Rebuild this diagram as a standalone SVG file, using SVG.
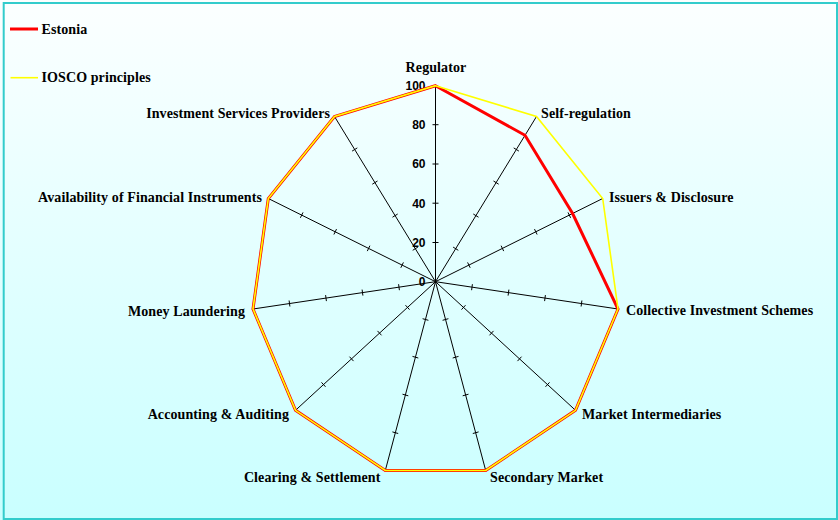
<svg xmlns="http://www.w3.org/2000/svg" width="838" height="520" viewBox="0 0 838 520">
<defs>
<linearGradient id="bg" x1="0" y1="0" x2="0" y2="1">
<stop offset="0" stop-color="#fcffff"/>
<stop offset="1" stop-color="#c9ffff"/>
</linearGradient>
<style>
.ax{stroke:#000;stroke-width:1;fill:none}
.tk{stroke:#000;stroke-width:1;fill:none}
.lbl{font-family:"Liberation Serif","Times New Roman",serif;font-weight:bold;font-size:14px;fill:#000;letter-spacing:0.1px}
.num{font-family:"Liberation Sans",Arial,sans-serif;font-weight:bold;font-size:12px;fill:#000;text-anchor:end}
.est{stroke:#ff0000;stroke-width:3;fill:none;stroke-linejoin:miter}
.ios{stroke:#ffff00;stroke-width:1.6;fill:none;stroke-linejoin:miter}
</style>
</defs>
<rect x="0" y="0" width="838" height="520" fill="url(#bg)"/>
<rect x="3.7" y="3" width="833.3" height="516" fill="none" stroke="#33cccc" stroke-width="2"/>

<g id="legend">
<line x1="10" y1="29" x2="38" y2="29" stroke="#ff0000" stroke-width="3"/>
<text class="lbl" x="41.5" y="34.3">Estonia</text>
<line x1="10.5" y1="77.7" x2="38" y2="77.7" stroke="#ffff00" stroke-width="1.6"/>
<text class="lbl" x="41.5" y="82">IOSCO principles</text>
</g>

<g id="axes">
<g id="ax-regulator">
<path class="ax" d="M435.5 281.7L435.5 85.7"/>
<path class="tk" d="M432.5 242.5H438.5M432.5 203.2H438.5M432.5 164H438.5M432.5 124.7H438.5"/>
<text class="lbl" x="436" y="72" text-anchor="middle">Regulator</text>
</g>
<g id="ax-selfreg">
<path class="ax" d="M435.5 281.7L536.5 116.5"/>
<path class="tk" d="M453.1 247.1L458.3 250.3M473.3 214L478.5 217.2M493.5 181L498.7 184.2M513.7 147.9L518.9 151.1"/>
<text class="lbl" x="541" y="117.5">Self-regulation</text>
</g>
<g id="ax-issuers">
<path class="ax" d="M435.5 281.7L602.7 198.5"/>
<path class="tk" d="M467.6 262.4L470.2 267.8M501.1 245.7L503.7 251.1M534.5 229.1L537.1 234.5M568 212.4L570.6 217.8"/>
<text class="lbl" x="609" y="202">Issuers &amp; Disclosure</text>
</g>
<g id="ax-cis">
<path class="ax" d="M435.5 281.7L618 309"/>
<path class="tk" d="M472.4 284.2L471.6 290.2M508.9 289.6L508.1 295.6M545.4 295.1L544.6 301.1M581.9 300.5L581.1 306.5"/>
<text class="lbl" x="626" y="315">Collective Investment Schemes</text>
</g>
<g id="ax-intermediaries">
<path class="ax" d="M435.5 281.7L575.5 410.3"/>
<path class="tk" d="M465.5 305.2L461.5 309.6M493.5 330.9L489.5 335.3M521.5 356.7L517.5 361.1M549.5 382.4L545.5 386.8"/>
<text class="lbl" x="582" y="419">Market Intermediaries</text>
</g>
<g id="ax-secondary">
<path class="ax" d="M435.5 281.7L485.7 470.5"/>
<path class="tk" d="M448.4 318.7L442.6 320.3M458.5 356.4L452.7 358M468.5 394.2L462.7 395.8M478.6 431.9L472.8 433.5"/>
<text class="lbl" x="490" y="482">Secondary Market</text>
</g>
<g id="ax-clearing">
<path class="ax" d="M435.5 281.7L385.3 470.5"/>
<path class="tk" d="M422.6 318.7L428.4 320.3M412.5 356.4L418.3 358M402.5 394.2L408.3 395.8M392.4 431.9L398.2 433.5"/>
<text class="lbl" x="380.5" y="482" text-anchor="end">Clearing &amp; Settlement</text>
</g>
<g id="ax-accounting">
<path class="ax" d="M435.5 281.7L295.5 410.3"/>
<path class="tk" d="M405.5 305.2L409.5 309.6M377.5 330.9L381.5 335.3M349.5 356.7L353.5 361.1M321.5 382.4L325.5 386.8"/>
<text class="lbl" x="289" y="419" text-anchor="end">Accounting &amp; Auditing</text>
</g>
<g id="ax-laundering">
<path class="ax" d="M435.5 281.7L253 309"/>
<path class="tk" d="M398.6 284.2L399.4 290.2M362.1 289.6L362.9 295.6M325.6 295.1L326.4 301.1M289.1 300.5L289.9 306.5"/>
<text class="lbl" x="245" y="316" text-anchor="end">Money Laundering</text>
</g>
<g id="ax-availability">
<path class="ax" d="M435.5 281.7L268.3 198.5"/>
<path class="tk" d="M403.4 262.4L400.8 267.8M369.9 245.7L367.3 251.1M336.5 229.1L333.9 234.5M303 212.4L300.4 217.8"/>
<text class="lbl" x="262" y="202" text-anchor="end">Availability of Financial Instruments</text>
</g>
<g id="ax-isp">
<path class="ax" d="M435.5 281.7L334.5 116.5"/>
<path class="tk" d="M417.9 247.1L412.7 250.3M397.7 214L392.5 217.2M377.5 181L372.3 184.2M357.3 147.9L352.1 151.1"/>
<text class="lbl" x="330" y="117.5" text-anchor="end">Investment Services Providers</text>
</g>
</g>

<g id="scale">
<text class="num" x="425.5" y="286">0</text>
<text class="num" x="425.5" y="246.8">20</text>
<text class="num" x="425.5" y="207.5">40</text>
<text class="num" x="425.5" y="168.3">60</text>
<text class="num" x="425.5" y="129">80</text>
<text class="num" x="425.5" y="90">100</text>
</g>

<g id="series">
<polygon id="estonia" class="est" points="435.5,85.7 525,135.3 572.6,213.5 618,309 575.5,410.3 485.7,470.5 385.3,470.5 295.5,410.3 253,309 268.3,198.5 334.5,116.5"/>
<polygon id="iosco" class="ios" points="435.5,85.7 536.5,116.5 602.7,198.5 618,309 575.5,410.3 485.7,470.5 385.3,470.5 295.5,410.3 253,309 268.3,198.5 334.5,116.5"/>
</g>
</svg>
